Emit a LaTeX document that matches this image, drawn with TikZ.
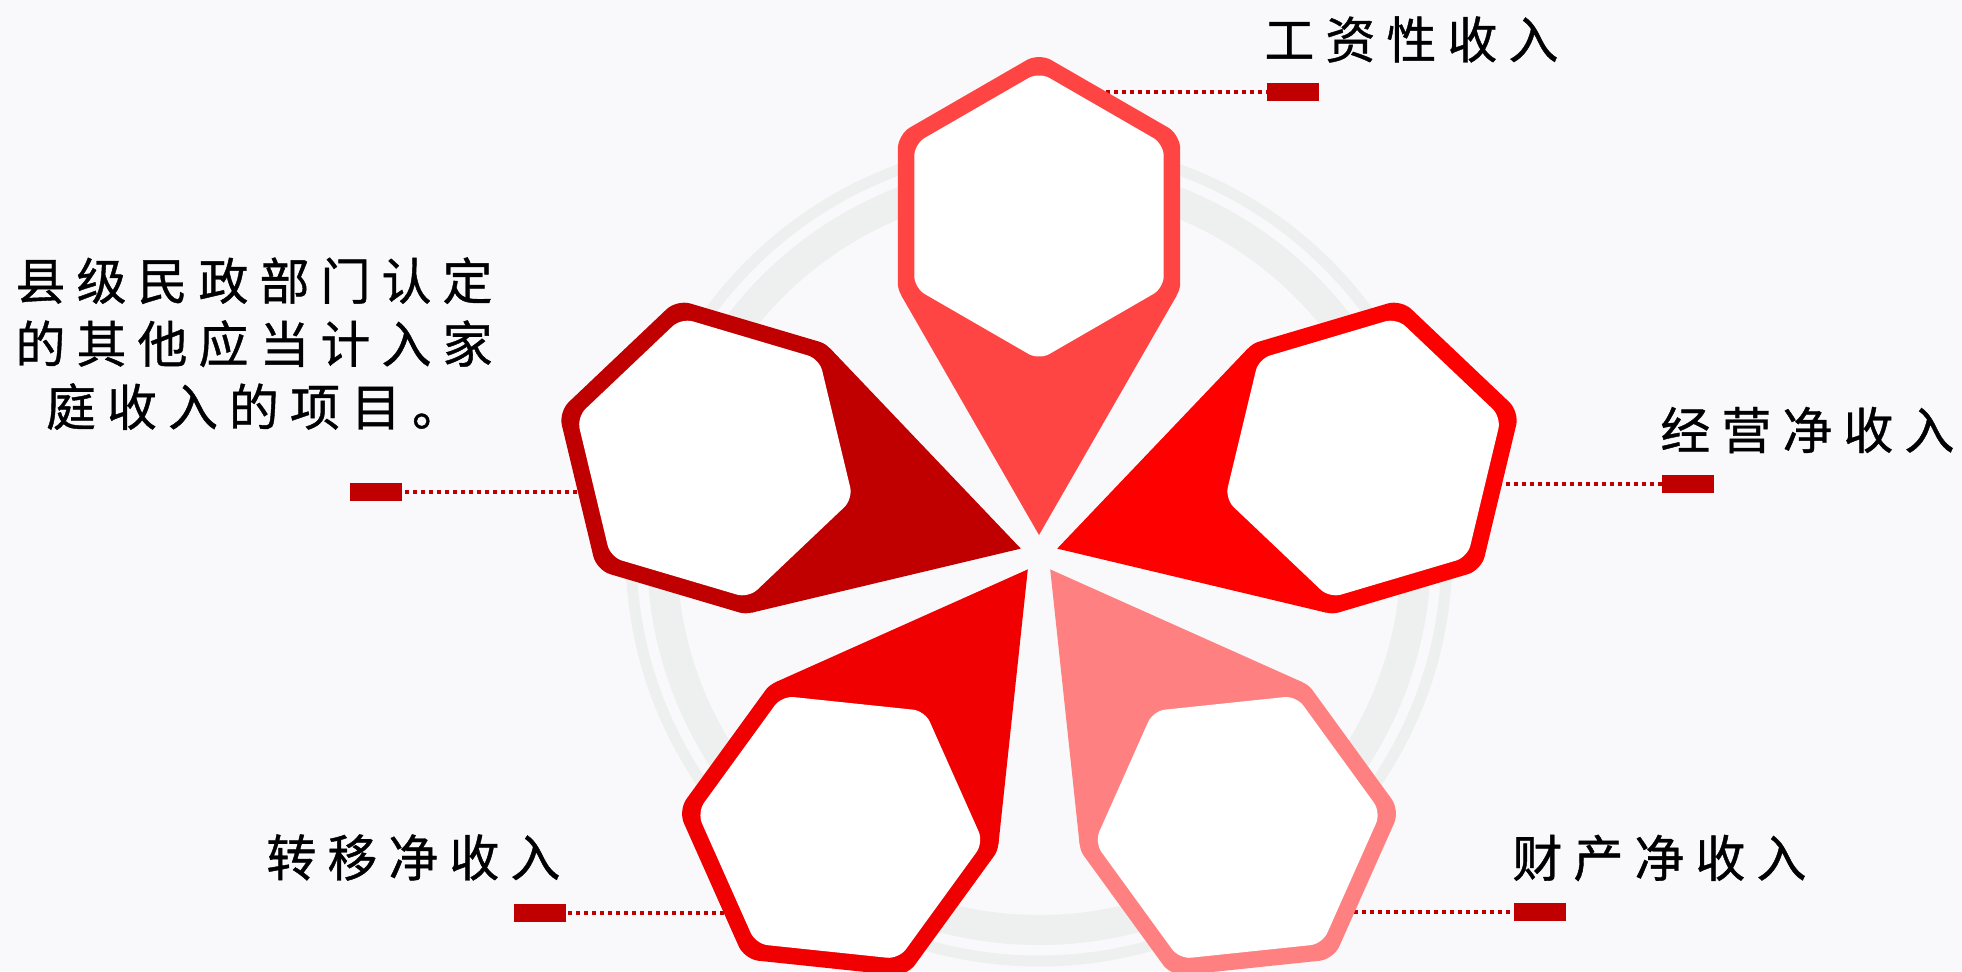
\documentclass[tikz,border=0pt]{standalone}
\usepackage{fontspec}
\newfontfamily\cjk[LetterSpace=22, FakeBold=0.8]{Noto Sans CJK SC}
\usetikzlibrary{shapes.geometric}

\definecolor{fond}{RGB}{249,248,250}
\definecolor{anneau}{RGB}{238,239,239}
\definecolor{rougeA}{RGB}{255,68,68}
\definecolor{rougeB}{RGB}{255,0,0}
\definecolor{rougeC}{RGB}{255,128,128}
\definecolor{rougeD}{RGB}{240,0,0}
\definecolor{rougeE}{RGB}{192,0,0}
\definecolor{marque}{RGB}{192,0,0}

\begin{document}
\begin{tikzpicture}[x=0.5pt, y=0.5pt,
    % Styles des hexagones
    alveole/.style={regular polygon, regular polygon sides=6, minimum size=163pt,
                    inner sep=0pt, outer sep=0pt, rounded corners=7pt},
    creux/.style={regular polygon, regular polygon sides=6, minimum size=144pt,
                  inner sep=0pt, outer sep=0pt, fill=white, rounded corners=6pt},
    % Styles des etiquettes
    etiquette/.style={font=\cjk\fontsize{25}{31.5}\selectfont, inner sep=0pt, text=black},
    marqueur/.style={rectangle, fill=marque, minimum width=26pt, minimum height=9pt,
                     inner sep=0pt, outer sep=0pt},
    % Style des pointilles
    pointille/.style={draw=marque, line width=2pt, dash pattern=on 2pt off 2pt}
]
\useasboundingbox (0,0) rectangle (1962,971);
\fill[fond] (0,0) rectangle (1962,971);

% ==========================================
% ANNEAU DE FOND
% ==========================================
\coordinate (ctr) at (1039,418);
\draw[anneau, line width=15pt] (ctr) circle[radius=377];
\draw[anneau, line width=5.5pt] (ctr) circle[radius=408];

% ==========================================
% MARQUEURS ET POINTILLES
% ==========================================
\node[marqueur] (wage-tag) at (1292.5,878.5) {};
\node[marqueur] (business-tag) at (1688,487) {};
\node[marqueur] (property-tag) at (1539.5,59) {};
\node[marqueur] (transfer-tag) at (539.5,58) {};
\node[marqueur] (other-tag) at (375.5,479.5) {};

\coordinate (wage-end) at (1090,878.5);
\coordinate (business-end) at (1490,487);
\coordinate (property-end) at (1330,59);
\coordinate (transfer-end) at (740,58);
\coordinate (other-end) at (585,479.5);

\draw[pointille] (wage-end) -- (wage-tag);
\draw[pointille] (business-end) -- (business-tag);
\draw[pointille] (property-end) -- (property-tag);
\draw[pointille] (transfer-end) -- (transfer-tag);
\draw[pointille] (other-end) -- (other-tag);

% ==========================================
% PETALES
% ==========================================
% Haut
\node[alveole, fill=rougeA, rotate=90] (wage-hex) at (1039,755) {};
\coordinate (wage-tip) at (1039,436);
\fill[rougeA] (wage-tip) -- ([shift={(210:159)}]wage-hex.center)
    -- ([shift={(330:159)}]wage-hex.center) -- cycle;
\node[creux, rotate=90] (wage-in) at (wage-hex.center) {};

% Droite
\node[alveole, fill=rougeB, rotate=16.5] (business-hex) at (1363.1,513) {};
\coordinate (business-tip) at (1057.2,422.4);
\fill[rougeB] (business-tip) -- ([shift={(136.5:159)}]business-hex.center)
    -- ([shift={(256.5:159)}]business-hex.center) -- cycle;
\node[creux, rotate=16.5] (business-in) at (business-hex.center) {};

% Bas droite
\node[alveole, fill=rougeC, rotate=306] (property-hex) at (1237.7,143.6) {};
\coordinate (property-tip) at (1050.2,401.6);
\fill[rougeC] (property-tip) -- ([shift={(66:159)}]property-hex.center)
    -- ([shift={(186:159)}]property-hex.center) -- cycle;
\node[creux, rotate=306] (property-in) at (property-hex.center) {};

% Bas gauche
\node[alveole, fill=rougeD, rotate=234] (transfer-hex) at (840.3,143.6) {};
\coordinate (transfer-tip) at (1027.8,401.6);
\fill[rougeD] (transfer-tip) -- ([shift={(354:159)}]transfer-hex.center)
    -- ([shift={(114:159)}]transfer-hex.center) -- cycle;
\node[creux, rotate=234] (transfer-in) at (transfer-hex.center) {};

% Gauche
\node[alveole, fill=rougeE, rotate=163.5] (other-hex) at (714.9,513) {};
\coordinate (other-tip) at (1020.8,422.4);
\fill[rougeE] (other-tip) -- ([shift={(283.5:159)}]other-hex.center)
    -- ([shift={(43.5:159)}]other-hex.center) -- cycle;
\node[creux, rotate=163.5] (other-in) at (other-hex.center) {};

% ==========================================
% TEXTES
% ==========================================
\node[etiquette, anchor=west] (wage-text) at (1264,931.5) {工资性收入};
\node[etiquette, anchor=west] (business-text) at (1660,541) {经营净收入};
\node[etiquette, anchor=west] (property-text) at (1512,113) {财产净收入};
\node[etiquette, anchor=west] (transfer-text) at (266,113.5) {转移净收入};
\node[etiquette, anchor=north, align=center] (other-text) at (254,714)
    {县级民政部门认定\\的其他应当计入家\\庭收入的项目。};

\end{tikzpicture}
\end{document}
